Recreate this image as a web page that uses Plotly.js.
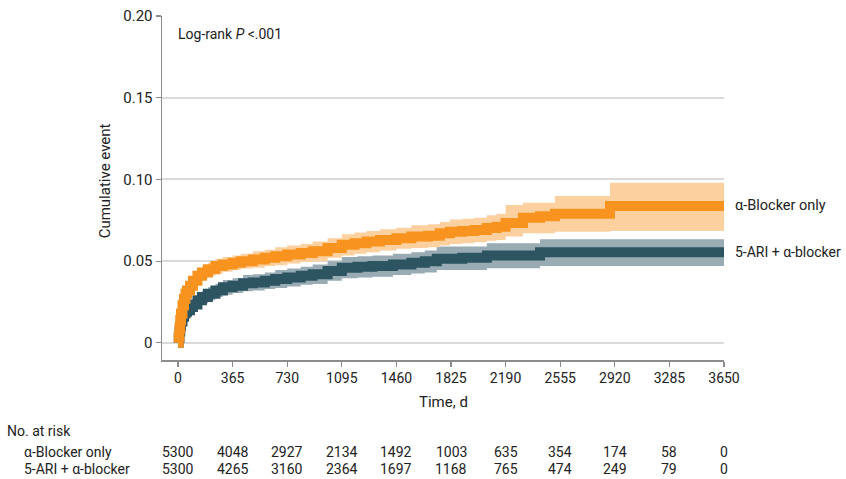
<!DOCTYPE html>
<html>
<head>
<meta charset="utf-8">
<script src="https://cdn.plot.ly/plotly-3.0.1.min.js"></script>
<style>html,body{margin:0;padding:0;background:#fff;}#chart{width:846px;height:479px;}</style>
</head>
<body>
<div id="chart"></div>
<script>
// α-Blocker only (orange)
var O_t  = [0,5,10,15,20,30,40,50,60,80,100,130,160,200,250,300,365,420,500,580,650,730,820,900,1000,1095,1180,1260,1350,1460,1560,1671,1750,1818,1900,1980,2065,2130,2190,2306,2420,2520,2700,2888,3650];
var O_v  = [0,0.004,0.009,0.014,0.018,0.023,0.027,0.030,0.032,0.035,0.038,0.041,0.043,0.045,0.047,0.048,0.049,0.050,0.051,0.052,0.053,0.054,0.055,0.056,0.058,0.060,0.061,0.062,0.063,0.064,0.065,0.0655,0.067,0.068,0.0685,0.069,0.0703,0.071,0.0734,0.0765,0.0775,0.079,0.079,0.0838,0.0838];
var O_lo = [0,0.002,0.006,0.011,0.015,0.019,0.023,0.026,0.028,0.031,0.0345,0.037,0.039,0.041,0.0425,0.0435,0.0445,0.0455,0.046,0.047,0.0475,0.0485,0.0495,0.050,0.052,0.0535,0.0545,0.0555,0.0565,0.0575,0.058,0.0585,0.0595,0.0605,0.061,0.0615,0.0625,0.063,0.065,0.067,0.067,0.068,0.068,0.0685,0.0685];
var O_hi = [0,0.006,0.012,0.017,0.021,0.027,0.031,0.034,0.036,0.039,0.0415,0.045,0.047,0.049,0.0515,0.0525,0.0535,0.0545,0.056,0.057,0.0585,0.0595,0.0605,0.062,0.064,0.0665,0.0675,0.0685,0.0695,0.0705,0.072,0.0725,0.074,0.0755,0.076,0.0765,0.078,0.079,0.0844,0.0858,0.0858,0.0899,0.0899,0.098,0.098];

// 5-ARI + α-blocker (teal)
var T_t  = [0,5,10,15,20,30,40,50,60,80,100,130,160,200,250,300,365,435,500,580,650,730,820,900,1000,1095,1200,1300,1437,1560,1650,1730,1900,2065,2420,3650];
var T_v  = [0,0.003,0.007,0.010,0.013,0.016,0.018,0.019,0.020,0.022,0.0235,0.026,0.028,0.030,0.032,0.034,0.035,0.0365,0.037,0.038,0.039,0.040,0.041,0.042,0.044,0.046,0.0465,0.047,0.048,0.049,0.050,0.0515,0.052,0.0535,0.0555,0.0555];
var T_lo = [0,0.0015,0.005,0.0075,0.010,0.013,0.015,0.016,0.017,0.019,0.020,0.0225,0.024,0.026,0.028,0.0295,0.0305,0.0315,0.032,0.033,0.0335,0.0345,0.0355,0.036,0.038,0.0395,0.040,0.0405,0.0415,0.0425,0.043,0.0446,0.0446,0.0457,0.047,0.047];
var T_hi = [0,0.0045,0.009,0.0125,0.016,0.019,0.021,0.022,0.023,0.025,0.027,0.0295,0.032,0.034,0.036,0.0385,0.0395,0.0415,0.042,0.043,0.0445,0.0455,0.0465,0.048,0.050,0.0525,0.053,0.0535,0.0545,0.0555,0.0565,0.0589,0.0589,0.061,0.0634,0.0634];

var xTicks = [0,365,730,1095,1460,1825,2190,2555,2920,3285,3650];
var yTicks = [0,0.05,0.10,0.15,0.20];
var yTickText = ['0','0.05','0.10','0.15','0.20'];
var riskO = [5300,4048,2927,2134,1492,1003,635,354,174,58,0];
var riskT = [5300,4265,3160,2364,1697,1168,765,474,249,79,0];
var nameO = 'α-Blocker only';
var nameT = '5-ARI + α-blocker';

var cO = '#f7931e', cObd = '#fdd0a0';
var cT = '#2d5461', cTbd = '#99abb3';
var txt = '#222';
var FONT = 'Roboto, "Noto Sans", sans-serif';

function band(t, lo, hi, col) {
  return [
    {x: t, y: lo, mode: 'lines', line: {width: 0, shape: 'hv', color: col}, hoverinfo: 'skip', showlegend: false},
    {x: t, y: hi, mode: 'lines', line: {width: 0, shape: 'hv', color: col}, fill: 'tonexty', fillcolor: col, hoverinfo: 'skip', showlegend: false}
  ];
}

var data = []
  .concat(band(T_t, T_lo, T_hi, cTbd))
  .concat(band(O_t, O_lo, O_hi, cObd))
  .concat([
    {x: T_t, y: T_v, mode: 'lines', line: {width: 10, shape: 'hv', color: cT}, name: nameT, showlegend: false},
    {x: O_t, y: O_v, mode: 'lines', line: {width: 10, shape: 'hv', color: cO}, name: nameO, showlegend: false}
  ]);

var ann = [];
ann.push({xref: 'paper', yref: 'paper', x: 0.025, y: 0.948, xanchor: 'left', yanchor: 'middle',
  text: 'Log-rank <i>P</i> <.001', showarrow: false, font: {family: FONT, size: 14, color: txt}});
ann.push({xref: 'paper', yref: 'y', x: 1.016, y: O_v[O_v.length - 1], xanchor: 'left', yanchor: 'middle',
  text: nameO, showarrow: false, font: {family: FONT, size: 14.5, color: txt}});
ann.push({xref: 'paper', yref: 'y', x: 1.016, y: T_v[T_v.length - 1], xanchor: 'left', yanchor: 'middle',
  text: nameT, showarrow: false, font: {family: FONT, size: 14, color: txt}});
ann.push({xref: 'paper', yref: 'paper', x: -0.101, y: 0.52, xanchor: 'center', yanchor: 'middle', textangle: -90,
  text: 'Cumulative event', showarrow: false, font: {family: FONT, size: 15, color: txt}});
ann.push({xref: 'paper', yref: 'paper', x: 0.5, y: -0.122, xanchor: 'center', yanchor: 'middle',
  text: 'Time, d', showarrow: false, font: {family: FONT, size: 15, color: txt}});
ann.push({xref: 'paper', yref: 'paper', x: -0.279, y: -0.206, xanchor: 'left', yanchor: 'middle',
  text: 'No. at risk', showarrow: false, font: {family: FONT, size: 14, color: txt}});
ann.push({xref: 'paper', yref: 'paper', x: -0.249, y: -0.267, xanchor: 'left', yanchor: 'middle',
  text: nameO, showarrow: false, font: {family: FONT, size: 14, color: txt}});
ann.push({xref: 'paper', yref: 'paper', x: -0.249, y: -0.317, xanchor: 'left', yanchor: 'middle',
  text: nameT, showarrow: false, font: {family: FONT, size: 14, color: txt}});
for (var i = 0; i < xTicks.length; i++) {
  ann.push({xref: 'x', yref: 'paper', x: xTicks[i], y: -0.267, xanchor: 'center', yanchor: 'middle',
    text: String(riskO[i]), showarrow: false, font: {family: FONT, size: 14, color: txt}});
  ann.push({xref: 'x', yref: 'paper', x: xTicks[i], y: -0.317, xanchor: 'center', yanchor: 'middle',
    text: String(riskT[i]), showarrow: false, font: {family: FONT, size: 14, color: txt}});
}

var layout = {
  width: 846, height: 479,
  margin: {l: 162, r: 122, t: 16, b: 119, pad: 0},
  paper_bgcolor: '#fff', plot_bgcolor: '#fff',
  showlegend: false,
  xaxis: {
    range: [-107, 3650], tickmode: 'array', tickvals: xTicks, ticktext: xTicks.map(String),
    showgrid: false, zeroline: false, showline: true, linecolor: '#8c8c8c', linewidth: 1.5,
    ticks: 'outside', ticklen: 5, tickcolor: '#8c8c8c', tickwidth: 1.2,
    tickfont: {family: FONT, size: 14, color: txt}, fixedrange: true
  },
  yaxis: {
    range: [-0.0105, 0.20], tickmode: 'array', tickvals: yTicks, ticktext: yTickText,
    showgrid: true, gridcolor: '#dadada', gridwidth: 2, zeroline: false,
    showline: true, linecolor: '#8c8c8c', linewidth: 1.5,
    ticks: 'outside', ticklen: 5, tickcolor: '#8c8c8c', tickwidth: 1.2,
    tickfont: {family: FONT, size: 15, color: txt}, fixedrange: true
  },
  annotations: ann
};

Plotly.newPlot('chart', data, layout, {displayModeBar: false, staticPlot: true});
</script>
</body>
</html>
